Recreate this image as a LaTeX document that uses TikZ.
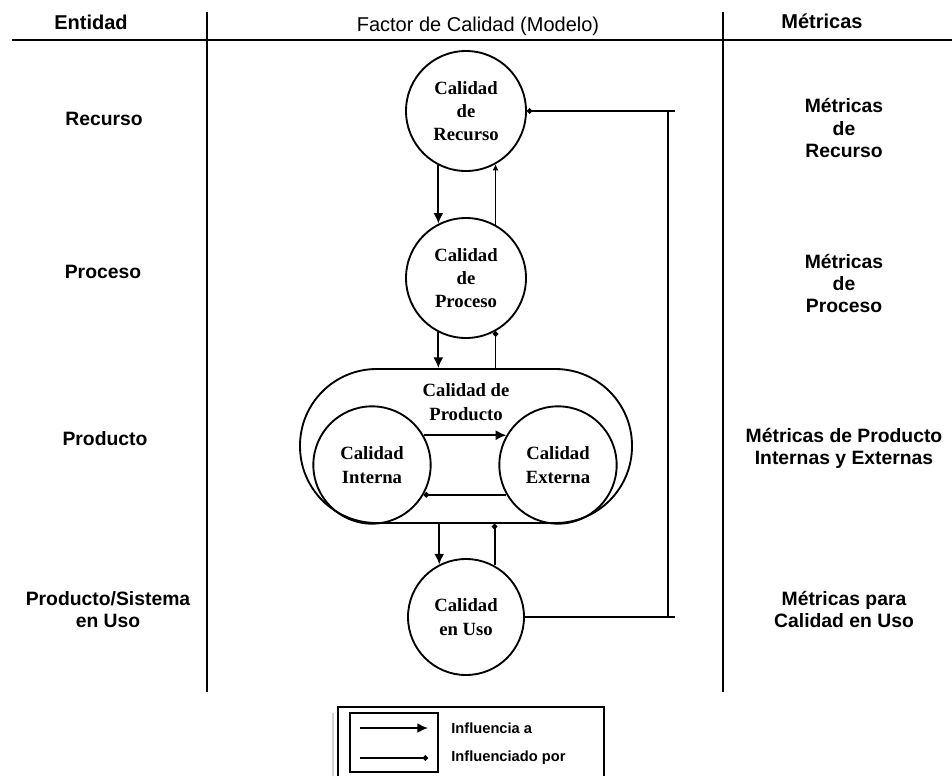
\documentclass[tikz,border=0pt]{standalone}
\usepackage{fontspec}
\setmainfont{Liberation Serif}
\setsansfont{Liberation Sans}
\usetikzlibrary{arrows.meta}
\begin{document}
\begin{tikzpicture}[x=0.75pt,y=-0.75pt,
  line width=1.4pt,
  qual/.style={draw, circle, minimum size=90pt, inner sep=0pt, align=center,
    font=\rmfamily\bfseries\fontsize{14}{17.5}\selectfont},
  lbl/.style={align=center, font=\sffamily\bfseries\fontsize{14.5}{16.5}\selectfont},
  hdr/.style={font=\sffamily\fontsize{15}{17}\selectfont},
  hdrb/.style={font=\sffamily\bfseries\fontsize{15}{17}\selectfont},
  infl/.style={-{Latex[length=8pt,width=7.5pt]}},
  inflby/.style={-{Circle[length=4pt]}},
  inflbytri/.style={-{Latex[length=4.5pt,width=4.5pt]}},
  legtxt/.style={anchor=west, font=\sffamily\bfseries\fontsize{11}{13}\selectfont},
]
\useasboundingbox (0,0) rectangle (952,775);

% column headers and rules
\node[hdrb] (hEnt) at (91,22) {Entidad};
\node[hdr] (hFac) at (478,26) {Factor de Calidad (Modelo)};
\node[hdrb] (hMet) at (822,21) {Métricas};
\coordinate (hl1) at (12,40);
\coordinate (hl2) at (952,40);
\draw (hl1) -- (hl2);
\coordinate (v1a) at (207,12); \coordinate (v1b) at (207,692);
\coordinate (v2a) at (723,12); \coordinate (v2b) at (723,692);
\draw (v1a) -- (v1b);
\draw (v2a) -- (v2b);

% entity labels
\node[lbl] (eRec) at (104,119) {Recurso};
\node[lbl] (ePro) at (103,272) {Proceso};
\node[lbl] (eProd) at (105,439) {Producto};
\node[lbl] (eUso) at (108,610) {Producto/Sistema\\en Uso};

% metric labels
\node[lbl] (mRec) at (844,128) {Métricas\\de\\Recurso};
\node[lbl] (mPro) at (844,283) {Métricas\\de\\Proceso};
\node[lbl] (mProd) at (844,448) {Métricas de Producto\\Internas y Externas};
\node[lbl] (mUso) at (844,609) {Métricas para\\Calidad en Uso};

% quality model
\node[qual] (rec) at (466,111) {Calidad\\de\\Recurso};
\node[qual] (pro) at (466,278) {Calidad\\de\\Proceso};
\node[draw, rectangle, rounded corners=57.5pt, minimum width=249pt,
  minimum height=115.5pt, inner sep=0pt] (box) at (466,446) {};
\node[font=\rmfamily\bfseries\fontsize{14}{17.5}\selectfont, align=center]
  (boxlbl) at (466,402) {Calidad de\\Producto};
\node[qual, minimum size=88pt] (int) at (372,465) {Calidad\\Interna};
\node[qual, minimum size=88pt] (ext) at (558,465) {Calidad\\Externa};
\node[qual, minimum size=87pt] (uso) at (466,617) {Calidad\\en Uso};

% influence between levels
\draw[infl] (rec.-117) -- (pro.117);
\draw[inflbytri] (pro.61) -- (rec.-61);
\draw[infl] (pro.-117) -- (pro.-117 |- box.north);
\draw[inflby] (pro.-61 |- box.north) -- (pro.-61);
\draw[infl] (uso.117 |- box.south) -- (uso.117);
\draw[inflby] (uso.61) -- (uso.61 |- box.south);
\draw[infl] (int.30) -- (ext.150);
\draw[inflby] (ext.-150) -- (int.-30);

% return path from use back to resources
\coordinate (rt) at (668,111);
\coordinate (rb) at (668,617);
\coordinate (rte) at (675,111);
\coordinate (rbe) at (675,617);
\draw[inflby] (rte) -- (rec.east);
\draw (uso.east) -- (rbe);
\draw (rt) -- (rb);

% legend
\coordinate (lgBL) at (338,776);
\coordinate (lgTL) at (338,707);
\coordinate (lgTR) at (604,707);
\coordinate (lgBR) at (604,776);
\draw (lgBL) -- (lgTL) -- (lgTR) -- (lgBR);
\coordinate (lgShadeA) at (333,713);
\coordinate (lgShadeB) at (333,776);
\draw[gray!35, line width=2pt] (lgShadeA) -- (lgShadeB);
\coordinate (liA) at (350,713);
\coordinate (liB) at (438,772);
\draw (liA) rectangle (liB);
\coordinate (l1a) at (360,728); \coordinate (l1b) at (428,728);
\coordinate (l2a) at (360,758); \coordinate (l2b) at (428,758);
\draw[infl] (l1a) -- (l1b);
\draw[inflby] (l2a) -- (l2b);
\node[legtxt] (lt1) at (446,728) {Influencia a};
\node[legtxt] (lt2) at (446,758) {Influenciado por};
\end{tikzpicture}
\end{document}
